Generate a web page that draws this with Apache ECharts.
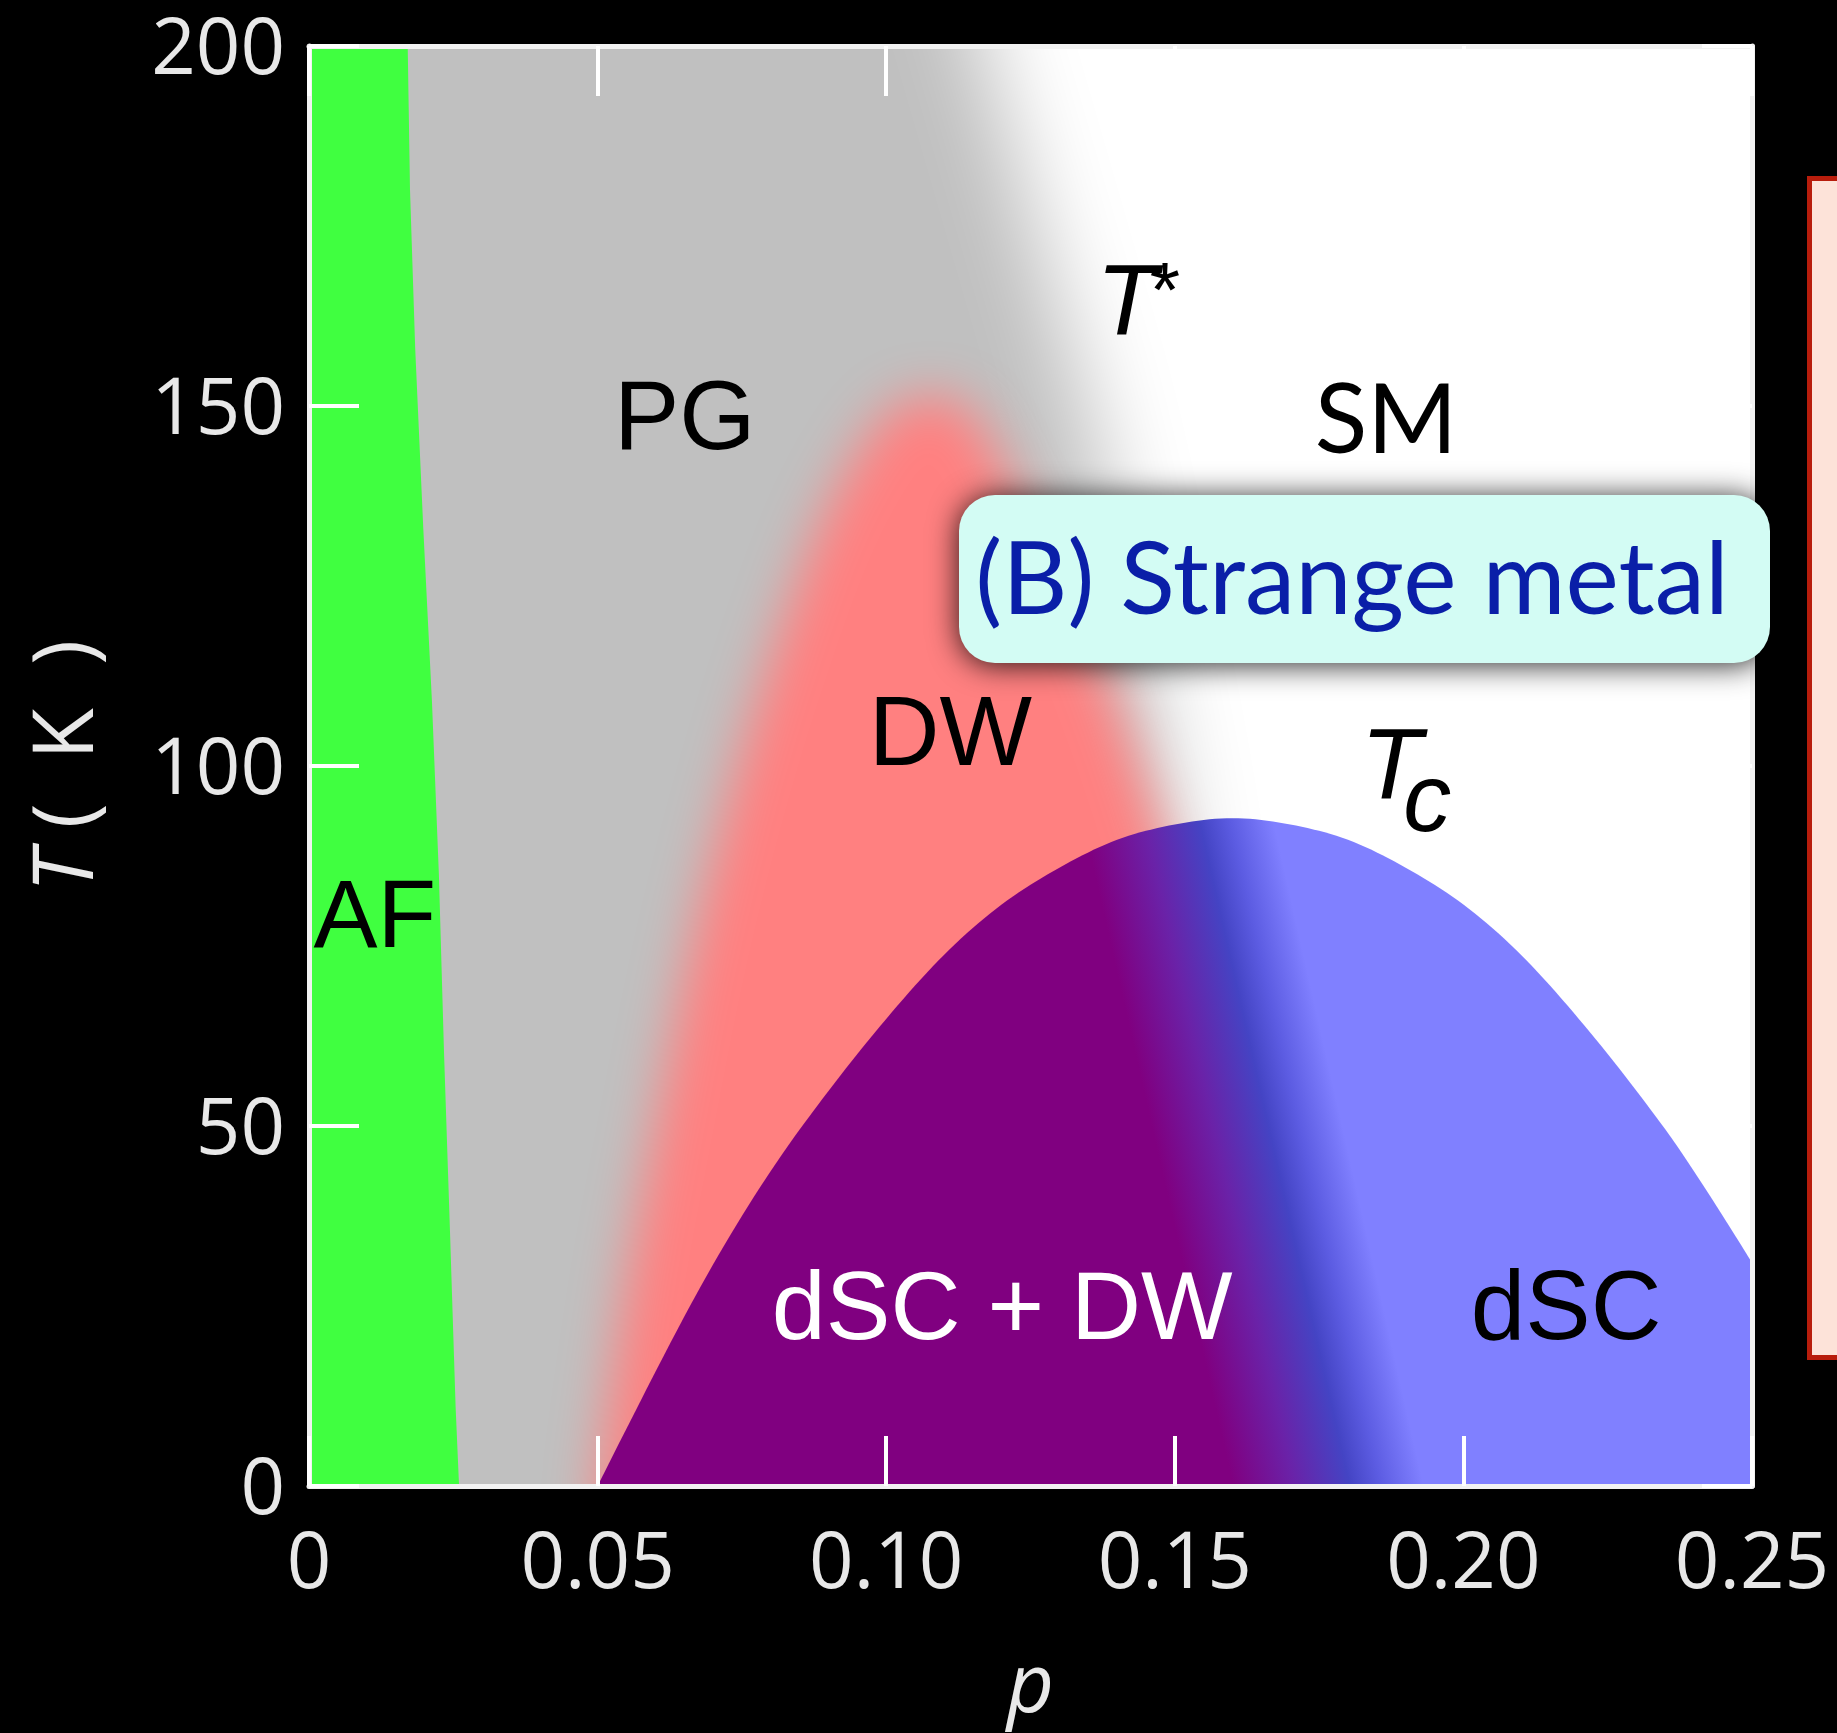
<!DOCTYPE html>
<html>
<head>
<meta charset="utf-8">
<script src="https://cdn.jsdelivr.net/npm/echarts@6/dist/echarts.min.js"></script>
<style>
html,body{margin:0;padding:0;background:#000;}
#c{width:1837px;height:1733px;}
</style>
</head>
<body>
<div id="c"></div>
<script>
// ---------------- data ----------------
const xTickLabels = ['0', '0.05', '0.10', '0.15', '0.20', '0.25'];
const yTickLabels = ['0', '50', '100', '150', '200'];

// values beyond the plot frame, used to close the filled regions
const pOutLeft = -0.1;
const tOutTop = 280;
const tOutBottom = -60;

// AF (green) right boundary
const afT = [200, 180, 158, 133, 109, 85, 60, 36, 11, 0];
const afP = [0.0171, 0.0175, 0.0184, 0.0198, 0.0213, 0.0225, 0.0234, 0.0244, 0.0254, 0.0260];

// T* crossover: centre of the grey -> white fade
const tStarT = [280, 200, 175, 150, 125, 100, 75, 50, 25, 0, -60];
const tStarP = [0.088, 0.117, 0.126, 0.135, 0.142, 0.148, 0.153, 0.158, 0.162, 0.165, 0.170];

// DW dome outline: centre of the fade
const dwT = [-60, 0, 25, 50, 75, 100, 120, 135, 145, 150, 152, 150, 140, 125, 100, 75, 50, 25, 0, -60];
const dwP = [0.050, 0.050, 0.054, 0.060, 0.066, 0.074, 0.082, 0.089, 0.096, 0.101, 0.108, 0.115, 0.121, 0.132, 0.144, 0.153, 0.160, 0.165, 0.168, 0.168];

// Tc superconducting dome
const tcP = [0.05, 0.06, 0.07, 0.08, 0.09, 0.10, 0.11, 0.12, 0.13, 0.14, 0.15, 0.16, 0.17, 0.18, 0.19, 0.20, 0.21, 0.22, 0.23, 0.24, 0.25];
const tcT = [0, 16, 31, 44, 55, 65, 74, 81, 86, 90, 92, 93, 92, 90, 86, 81, 74, 65, 55, 44, 31];

// DW edge seen inside the dome (centre of the dark band)
const bandP = [0.153, 0.1795];
const bandT = [97, 3];

// region labels: [text, p, T]
const regionLabels = [
  ['PG', 0.0651, 147.8],
  ['SM', 0.1866, 147.8],
  ['DW', 0.1111, 103.9],
  ['AF', 0.0114, 78.6],
  ['dSC + DW', 0.1201, 24.2],
  ['dSC', 0.2178, 24.2]
];
const tStarLabel = ['T', '*', 0.1417, 163.9];
const tcLabel = ['T', 'c', 0.1875, 99.4];
const boxText = '(B) Strange metal';

// ---------------- styles ----------------
const labelStyle = {
  'PG': {font: '98px "Liberation Sans"', fill: '#000'},
  'SM': {font: '97px Lato', fill: '#000'},
  'DW': {font: '98px "Liberation Sans"', fill: '#000'},
  'AF': {font: '96px "Liberation Sans"', fill: '#000'},
  'dSC + DW': {font: '97px "Liberation Sans"', fill: '#fff'},
  'dSC': {font: '98px "Liberation Sans"', fill: '#000'}
};
const C_GREEN = '#40ff40', C_GREY = '#c0c0c0', C_SALMON = '#ff8080';
const OFF = 4000; // draw shape off-canvas, keep only its blurred shadow

function pts(api, ps, ts) { return ps.map((p, i) => api.coord([p, ts[i]])); }
// smooth drawing of an outline (quadratic B-spline through segment midpoints), pixel space only
function smoothPx(c, from, to) {
  const out = [];
  for (let i = 0; i < from; i++) out.push(c[i]);
  out.push(c[from]);
  for (let i = from + 1; i < to; i++) {
    const p0 = i === from + 1 ? c[from] : [(c[i - 1][0] + c[i][0]) / 2, (c[i - 1][1] + c[i][1]) / 2];
    const p2 = i === to - 1 ? c[to] : [(c[i][0] + c[i + 1][0]) / 2, (c[i][1] + c[i + 1][1]) / 2];
    const p1 = c[i];
    for (let k = 1; k <= 10; k++) {
      const t = k / 10, u = 1 - t;
      out.push([u * u * p0[0] + 2 * u * t * p1[0] + t * t * p2[0], u * u * p0[1] + 2 * u * t * p1[1] + t * t * p2[1]]);
    }
  }
  for (let i = to; i < c.length; i++) out.push(c[i]);
  return out;
}
function blurred(points, color, blur) {
  return {
    type: 'polygon',
    shape: {points: points.map(q => [q[0] - OFF, q[1]])},
    style: {fill: color, shadowColor: color, shadowBlur: blur, shadowOffsetX: OFF, shadowOffsetY: 0}
  };
}

const greyP = [pOutLeft].concat(tStarP, [pOutLeft]);
const greyT = [tOutTop].concat(tStarT, [tOutBottom]);
const greenP = [pOutLeft, afP[0]].concat(afP, [afP[afP.length - 1], pOutLeft]);
const greenT = [tOutTop, tOutTop].concat(afT, [tOutBottom, tOutBottom]);
const domeP = tcP.concat([tcP[tcP.length - 1], tcP[0]]);
const domeT = tcT.concat([tOutBottom, tOutBottom]);

const chart = echarts.init(document.getElementById('c'), null, {renderer: 'canvas', width: 1837, height: 1733});

const axisCommon = {
  type: 'value',
  z: 5,
  splitLine: {show: false},
  axisLine: {show: true, onZero: false, lineStyle: {color: '#f2f2f2', width: 5}},
  axisTick: {show: true, inside: true, length: 50, lineStyle: {color: '#fff', width: 4}}
};
const tickFont = {color: '#e8e8e8', fontFamily: '"Open Sans"', fontSize: 78};

const option = {
  backgroundColor: '#000',
  animation: false,
  grid: {left: 309, right: 85, top: 46, bottom: 247, show: true, backgroundColor: '#fff', borderWidth: 0, containLabel: false, outerBoundsMode: 'none'},
  xAxis: [
    Object.assign({}, axisCommon, {
      position: 'bottom', min: 0, max: 0.25, interval: 0.05,
      axisLabel: Object.assign({margin: 41, formatter: (v, i) => xTickLabels[i]}, tickFont),
      name: 'p', nameLocation: 'middle', nameGap: 162,
      nameTextStyle: {color: '#e8e8e8', fontFamily: '"Open Sans"', fontStyle: 'italic', fontSize: 82}
    }),
    Object.assign({}, axisCommon, {
      position: 'top', min: 0, max: 0.25, interval: 0.05, axisLabel: {show: false}
    })
  ],
  yAxis: [
    Object.assign({}, axisCommon, {
      position: 'left', min: 0, max: 200, interval: 50,
      axisLabel: Object.assign({margin: 24, verticalAlign: 'top', lineHeight: 12, formatter: (v, i) => yTickLabels[i]}, tickFont),
      name: '{it|T} (  K  )', nameLocation: 'middle', nameGap: 198, nameRotate: 90,
      nameTextStyle: {
        color: '#e8e8e8', fontFamily: '"Open Sans"', fontSize: 84,
        rich: {it: {fontStyle: 'italic', fontFamily: '"Open Sans"', fontSize: 84, color: '#e8e8e8'}}
      }
    }),
    Object.assign({}, axisCommon, {
      position: 'right', min: 0, max: 200, interval: 50, axisLabel: {show: false}
    })
  ],
  series: [
    { // pseudogap (grey) with blurred T* edge
      type: 'custom', clip: true, data: [[0, 0]], encode: {x: 0, y: 1},
      renderItem: (params, api) => blurred(pts(api, greyP, greyT), C_GREY, 88)
    },
    { // AF (green)
      type: 'custom', clip: true, data: [[0, 0]], encode: {x: 0, y: 1},
      renderItem: (params, api) => ({type: 'polygon', shape: {points: pts(api, greenP, greenT)}, style: {fill: C_GREEN}})
    },
    { // DW dome (blurred salmon)
      type: 'custom', clip: true, data: [[0, 0]], encode: {x: 0, y: 1},
      renderItem: (params, api) => blurred(smoothPx(pts(api, dwP, dwT), 1, dwP.length - 2), C_SALMON, 52)
    },
    { // superconducting dome
      type: 'custom', clip: true, data: [[0, 0]], encode: {x: 0, y: 1},
      renderItem: (params, api) => {
        const a = api.coord([bandP[0], bandT[0]]), b = api.coord([bandP[1], bandT[1]]);
        let dx = b[0] - a[0], dy = b[1] - a[1];
        const L = Math.hypot(dx, dy); dx /= L; dy /= L;
        let nx = -dy, ny = dx;
        if (nx < 0) { nx = -nx; ny = -ny; }
        const mx = (a[0] + b[0]) / 2, my = (a[1] + b[1]) / 2, H = 150;
        const grad = new echarts.graphic.LinearGradient(mx - H * nx, my - H * ny, mx + H * nx, my + H * ny, [
          {offset: 0, color: '#800080'},
          {offset: 0.12, color: '#800080'},
          {offset: 0.32, color: '#6a22a8'},
          {offset: 0.5, color: '#4444c4'},
          {offset: 0.6, color: '#5c5ce2'},
          {offset: 0.74, color: '#8080ff'},
          {offset: 1, color: '#8080ff'}
        ], true);
        const c = smoothPx(pts(api, domeP, domeT), 0, tcP.length - 1);
        return {type: 'polygon', shape: {points: c}, style: {fill: grad}};
      }
    },
    { // labels
      type: 'custom', clip: false, data: [[0, 0]], encode: {x: 0, y: 1}, z: 6,
      renderItem: (params, api) => {
        const children = regionLabels.map(l => {
          const c = api.coord([l[1], l[2]]);
          const s = labelStyle[l[0]];
          return {type: 'text', x: c[0], y: c[1], style: {text: l[0], font: s.font, fill: s.fill, align: 'center', verticalAlign: 'middle'}};
        });
        const ts = api.coord([tStarLabel[2], tStarLabel[3]]);
        children.push({type: 'text', x: ts[0], y: ts[1], style: {text: tStarLabel[0], font: 'italic 100px "Liberation Sans"', fill: '#000', align: 'center', verticalAlign: 'middle'}});
        children.push({type: 'text', x: ts[0] + 38, y: ts[1] - 10, style: {text: tStarLabel[1], font: '78px "Liberation Sans"', fill: '#000', align: 'center', verticalAlign: 'middle'}});
        const tc = api.coord([tcLabel[2], tcLabel[3]]);
        children.push({type: 'text', x: tc[0], y: tc[1], style: {text: tcLabel[0], font: 'italic 100px "Liberation Sans"', fill: '#000', align: 'center', verticalAlign: 'middle'}});
        children.push({type: 'text', x: tc[0] + 36, y: tc[1] + 34, style: {text: tcLabel[1], font: 'italic 96px "Liberation Sans"', fill: '#000', align: 'center', verticalAlign: 'middle'}});
        return {type: 'group', children: children};
      }
    },
    { // "(B) Strange metal" annotation box, on top of everything
      type: 'custom', clip: false, data: [[0, 0]], encode: {x: 0, y: 1}, z: 20,
      renderItem: () => ({
        type: 'group',
        children: [
          {
            type: 'rect',
            shape: {x: 959, y: 495, width: 811, height: 168, r: 36},
            style: {fill: '#d3fcf4', shadowBlur: 30, shadowColor: 'rgba(0,0,0,0.85)', shadowOffsetY: 2}
          },
          {
            type: 'text', x: 1352, y: 581,
            style: {text: boxText, font: '101px Lato', fill: '#0a1fa8', align: 'center', verticalAlign: 'middle'}
          }
        ]
      })
    }
  ],
  graphic: [
    { // right-hand side panel (cut off)
      type: 'rect', z: 100,
      shape: {x: 1809.5, y: 178.5, width: 60, height: 1179},
      style: {fill: '#fde3d9', stroke: '#b81d0c', lineWidth: 5}
    }
  ]
};
chart.setOption(option);
</script>
</body>
</html>
